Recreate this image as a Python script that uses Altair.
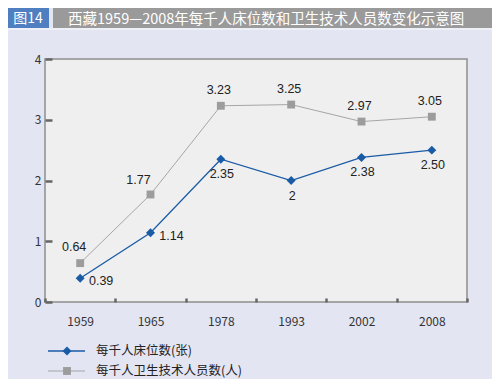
import altair as alt
import pandas as pd

years = ["1959", "1965", "1978", "1993", "2002", "2008"]
beds = [0.39, 1.14, 2.35, 2.00, 2.38, 2.50]
beds_text = ["0.39", "1.14", "2.35", "2", "2.38", "2.50"]
staff = [0.64, 1.77, 3.23, 3.25, 2.97, 3.05]
staff_text = ["0.64", "1.77", "3.23", "3.25", "2.97", "3.05"]
series_names = ["每千人床位数(张)", "每千人卫生技术人员数(人)"]
fig_tag = "图14"
title_text = "西藏1959—2008年每千人床位数和卫生技术人员数变化示意图"

BLUE = "#1a5ba6"
GRAY_M = "#9c9c9c"
GRAY_L = "#a6a6a6"
CJK = "Noto Sans CJK SC"

df = pd.DataFrame({"year": years, "beds": beds, "beds_t": beds_text,
                   "staff": staff, "staff_t": staff_text})

xenc = alt.X("year:O", sort=years,
             scale=alt.Scale(type="band", paddingInner=0, paddingOuter=0),
             axis=alt.Axis(title=None, labelAngle=0, domain=False, offset=-4,
                           tickSize=4, tickWidth=2.5, tickColor="#666666",
                           tickBand="extent", labelPadding=14, labelFontSize=12,
                           labelColor="#333333", labelFont=CJK))
yscale = alt.Scale(domain=[0, 4], nice=False, zero=True)
yenc_axis = alt.Axis(title=None, values=[0, 1, 2, 3, 4], grid=False, domain=False,
                     offset=-7, tickSize=7, tickWidth=2.5, tickColor="#666666",
                     labelPadding=4, labelFontSize=12, labelColor="#333333",
                     labelFont=CJK, format="d")

base = alt.Chart(df)

staff_line = base.mark_line(color=GRAY_L, strokeWidth=1).encode(
    x=xenc, y=alt.Y("staff:Q", scale=yscale, axis=yenc_axis))
staff_pts = base.mark_point(shape="square", filled=True, color=GRAY_M, size=62, opacity=1).encode(
    x=xenc, y=alt.Y("staff:Q", scale=yscale))
beds_line = base.mark_line(color=BLUE, strokeWidth=1.3).encode(
    x=xenc, y=alt.Y("beds:Q", scale=yscale))
beds_pts = base.mark_point(shape="diamond", filled=True, color=BLUE, size=80, opacity=1).encode(
    x=xenc, y=alt.Y("beds:Q", scale=yscale))

lab = dict(fontSize=12.5, color="#222222", font="Liberation Sans")
early = alt.FieldOneOfPredicate(field="year", oneOf=["1959", "1965"])
late = alt.FieldOneOfPredicate(field="year", oneOf=["1978", "1993", "2002", "2008"])

staff_lab_a = base.transform_filter(alt.FieldEqualPredicate(field="year", equal="1959")).mark_text(
    dx=-6, dy=-16, **lab).encode(x=xenc, y=alt.Y("staff:Q", scale=yscale), text="staff_t:N")
staff_lab_b = base.transform_filter(alt.FieldEqualPredicate(field="year", equal="1965")).mark_text(
    dx=-12, dy=-14, **lab).encode(x=xenc, y=alt.Y("staff:Q", scale=yscale), text="staff_t:N")
staff_lab_c = base.transform_filter(late).mark_text(
    dx=-2, dy=-16, **lab).encode(x=xenc, y=alt.Y("staff:Q", scale=yscale), text="staff_t:N")
beds_lab_a = base.transform_filter(early).mark_text(
    dx=21, dy=3, **lab).encode(x=xenc, y=alt.Y("beds:Q", scale=yscale), text="beds_t:N")
beds_lab_b = base.transform_filter(late).mark_text(
    dx=1, dy=15, **lab).encode(x=xenc, y=alt.Y("beds:Q", scale=yscale), text="beds_t:N")

# header bar (plot-area pixel coordinates; plot origin sits at svg (37, 51))
one = pd.DataFrame({"tag": [fig_tag], "title": [title_text]})
hb = alt.Chart(one)
blue_box = hb.mark_rect(color="#4f7fc0").encode(
    x=alt.value(-37), x2=alt.value(4), y=alt.value(-51), y2=alt.value(-31))
gray_bar = hb.mark_rect(color="#9a9a9a").encode(
    x=alt.value(8), x2=alt.value(447), y=alt.value(-51), y2=alt.value(-31))
light_strip = hb.mark_rect(color="#eef0f8").encode(
    x=alt.value(-37), x2=alt.value(447), y=alt.value(-31), y2=alt.value(-29))
tag_txt = hb.mark_text(color="white", fontSize=14, font=CJK, align="center", baseline="middle").encode(
    x=alt.value(-17), y=alt.value(-40), text="tag:N")
title_txt = hb.mark_text(color="white", fontSize=14.5, font=CJK, align="left", baseline="middle").encode(
    x=alt.value(23), y=alt.value(-39.5), text="title:N")

# legend
leg = pd.DataFrame({"name": series_names})
lg1 = alt.Chart(leg).transform_filter(alt.FieldEqualPredicate(field="name", equal=series_names[0]))
lg2 = alt.Chart(leg).transform_filter(alt.FieldEqualPredicate(field="name", equal=series_names[1]))
leg_items = []
for src, yy, col, mcol, shp, sz, sw in [(lg1, 292, BLUE, BLUE, "diamond", 80, 1.3),
                                        (lg2, 312, GRAY_L, GRAY_M, "square", 62, 1)]:
    leg_items.append(src.mark_rule(color=col, strokeWidth=sw).encode(
        x=alt.value(3), x2=alt.value(40), y=alt.value(yy)))
    leg_items.append(src.mark_point(shape=shp, filled=True, color=mcol, size=sz, opacity=1).encode(
        x=alt.value(22), y=alt.value(yy)))
    leg_items.append(src.mark_text(align="left", baseline="middle", fontSize=12.5, color="#222222",
                                   font=CJK).encode(x=alt.value(51), y=alt.value(yy), text="name:N"))

chart = alt.layer(
    blue_box, gray_bar, light_strip, tag_txt, title_txt,
    staff_line, staff_pts, beds_line, beds_pts,
    staff_lab_a, staff_lab_b, staff_lab_c, beds_lab_a, beds_lab_b,
    *leg_items
).properties(
    width=422, height=243,
    padding={"left": 37, "top": 51, "right": 25, "bottom": 77},
    autosize=alt.AutoSizeParams(type="none"),
    background="#e3e5f3"
).configure_view(
    fill="#efefef", stroke="#8e8e8e", strokeWidth=1.5
)

chart.save("out.html", embed_options={"renderer": "svg", "actions": False})
